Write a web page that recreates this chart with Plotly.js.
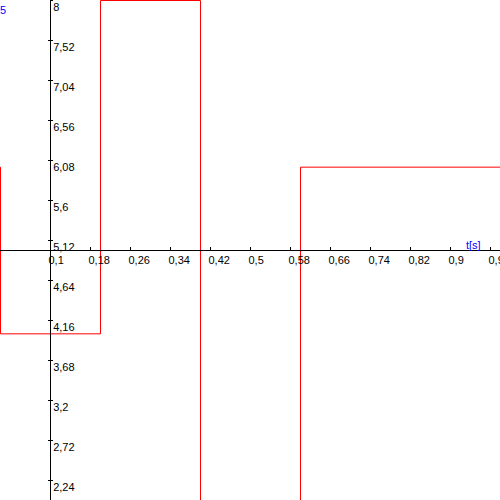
<!DOCTYPE html>
<html>
<head>
<meta charset="utf-8">
<script src="https://cdn.plot.ly/plotly-3.0.1.min.js"></script>
<style>html,body{margin:0;padding:0;background:#fff;}#chart{width:500px;height:500px;}</style>
</head>
<body>
<div id="chart"></div>
<script>
// step signal: value holds from each time until the next
const timeS = [-0.1, 0, 0.2, 0.4, 0.6, 1.0];
const signal = [6, 4, 8, 0, 6, 6];
const xTicks = [0.1, 0.18, 0.26, 0.34, 0.42, 0.5, 0.58, 0.66, 0.74, 0.82, 0.9, 0.98];
const xTickText = ["0,1", "0,18", "0,26", "0,34", "0,42", "0,5", "0,58", "0,66", "0,74", "0,82", "0,9", "0,98"];
const yTicks = [2.24, 2.72, 3.2, 3.68, 4.16, 4.64, 5.12, 5.6, 6.08, 6.56, 7.04, 7.52, 8];
const yTickText = ["2,24", "2,72", "3,2", "3,68", "4,16", "4,64", "5,12", "5,6", "6,08", "6,56", "7,04", "7,52", "8"];
const xLabel = "t[s]";
const yLabel = "5";

const font = {family: "Liberation Sans, Arial, sans-serif", size: 11, color: "#000"};

const traces = [
  {x: timeS, y: signal, type: "scatter", mode: "lines", line: {shape: "hv", color: "#ff0000", width: 1}, hoverinfo: "skip", showlegend: false},
  {x: [], y: [], type: "scatter", mode: "lines", yaxis: "y2", showlegend: false}
];

const layout = {
  width: 500, height: 500,
  margin: {l: 0, r: 0, t: 0, b: 0, pad: 0},
  paper_bgcolor: "#fff", plot_bgcolor: "#fff",
  showlegend: false,
  font: font,
  xaxis: {
    range: [-0.001, 0.999], domain: [0, 1], anchor: "free", position: 0.5,
    showgrid: false, zeroline: false, showline: true, linecolor: "#000", linewidth: 1,
    tickvals: xTicks, ticktext: xTickText, ticks: "inside", ticklen: 3, tickcolor: "#000", tickwidth: 1,
    ticklabelposition: "outside right", ticklabelshift: -3, ticklabeloverflow: "allow",
    tickfont: font, fixedrange: true
  },
  yaxis: {
    range: [2.006, 8.006], domain: [0, 1], anchor: "free", position: 0.1, side: "right",
    showgrid: false, zeroline: false, showline: true, linecolor: "#000", linewidth: 1,
    tickvals: yTicks, ticktext: yTickText, ticks: "outside", ticklen: 2, tickcolor: "#000", tickwidth: 1,
    ticklabelposition: "outside bottom", ticklabelshift: -2, ticklabeloverflow: "allow",
    tickfont: font, fixedrange: true
  },
  yaxis2: {
    range: [2.006, 8.006], domain: [0, 1], anchor: "free", position: 0.1, side: "right", overlaying: "y",
    showgrid: false, zeroline: false, showline: false,
    tickvals: yTicks, ticks: "inside", ticklen: 2, tickcolor: "#000", tickwidth: 1,
    showticklabels: false, fixedrange: true
  },
  annotations: [
    {text: xLabel, xref: "x", yref: "y", x: 0.929, y: 5, xanchor: "left", yanchor: "bottom", showarrow: false,
     font: {family: font.family, size: 11, color: "#0000ff"}, borderpad: 0, yshift: -1},
    {text: yLabel, xref: "paper", yref: "paper", x: 0, y: 1, xanchor: "left", yanchor: "top", showarrow: false,
     font: {family: font.family, size: 11, color: "#0000ff"}, borderpad: 0, yshift: -3, xshift: -1}
  ]
};

Plotly.newPlot("chart", traces, layout, {staticPlot: true, displayModeBar: false});
</script>
</body>
</html>
